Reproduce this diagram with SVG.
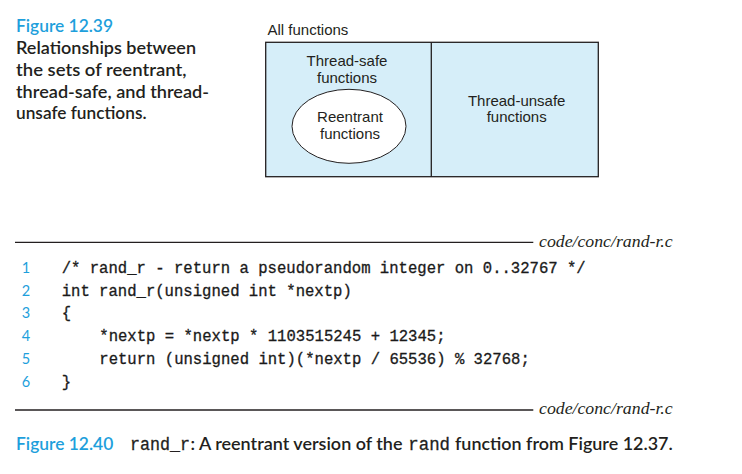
<svg xmlns="http://www.w3.org/2000/svg" width="742" height="474" viewBox="0 0 742 474">
<style>
.cap{font-family:Lato,"Liberation Sans",sans-serif;font-weight:600;font-size:18px;fill:#231f20}
.blue{fill:#1e9fdc}
.lbl{font-family:"Liberation Sans",Arial,sans-serif;font-size:15px;fill:#231f20}
.code{font-family:"Liberation Mono","Courier New",monospace;font-size:15.6px;fill:#1a1a1a;stroke:#1a1a1a;stroke-width:0.3;white-space:pre}
.num{font-family:Lato,"Liberation Sans",sans-serif;font-size:14.5px;fill:#1e9fdc;text-anchor:middle}
.file{font-family:"Liberation Serif","Times New Roman",serif;font-style:italic;font-size:16.5px;fill:#231f20}
.rule{stroke:#231f20;stroke-width:1.3}
.mono{font-family:"Liberation Mono","Courier New",monospace;font-weight:400;stroke:#231f20;stroke-width:0.3}
</style>
<rect width="742" height="474" fill="#ffffff"/>
<g id="caption-12-39">
<text class="cap blue" x="16" y="32" textLength="97" lengthAdjust="spacingAndGlyphs">Figure 12.39</text>
<text class="cap" x="16" y="54" textLength="180" lengthAdjust="spacingAndGlyphs">Relationships between</text>
<text class="cap" x="16" y="76" textLength="170.5" lengthAdjust="spacingAndGlyphs">the sets of reentrant,</text>
<text class="cap" x="16" y="97.5" textLength="193" lengthAdjust="spacingAndGlyphs">thread-safe, and thread-</text>
<text class="cap" x="16" y="119" textLength="130.5" lengthAdjust="spacingAndGlyphs">unsafe functions.</text>
</g>
<g id="all-functions">
<text class="lbl" x="267.5" y="35">All functions</text>
<rect x="265.7" y="42.3" width="332.6" height="134.4" fill="#d6eef9" stroke="#231f20" stroke-width="1.3"/>
</g>
<g id="thread-safe">
<line x1="431.3" y1="42.3" x2="431.3" y2="176.7" stroke="#231f20" stroke-width="1.3"/>
<text class="lbl" x="347" y="66" text-anchor="middle">Thread-safe</text>
<text class="lbl" x="347" y="82.7" text-anchor="middle">functions</text>
</g>
<g id="reentrant">
<ellipse cx="349" cy="126.3" rx="57" ry="37" fill="#ffffff" stroke="#231f20" stroke-width="1"/>
<text class="lbl" x="350" y="122" text-anchor="middle">Reentrant</text>
<text class="lbl" x="350" y="138.7" text-anchor="middle">functions</text>
</g>
<g id="thread-unsafe">
<text class="lbl" x="516.7" y="105.7" text-anchor="middle">Thread-unsafe</text>
<text class="lbl" x="516.7" y="122.3" text-anchor="middle">functions</text>
</g>
<g id="code-listing">
<line class="rule" x1="15" y1="242.3" x2="533.3" y2="242.3"/>
<text class="file" x="539" y="246.7" textLength="133.7" lengthAdjust="spacingAndGlyphs">code/conc/rand-r.c</text>
<text class="num" x="26" y="272.7">1</text>
<text class="num" x="26" y="295.5">2</text>
<text class="num" x="26" y="318.3">3</text>
<text class="num" x="26" y="341">4</text>
<text class="num" x="26" y="363.7">5</text>
<text class="num" x="26" y="386.5">6</text>
<text class="code" x="61.7" y="272.7">/* rand_r - return a pseudorandom integer on 0..32767 */</text>
<text class="code" x="61.7" y="295.5">int rand_r(unsigned int *nextp)</text>
<text class="code" x="61.7" y="318.3">{</text>
<text class="code" x="99.3" y="341">*nextp = *nextp * 1103515245 + 12345;</text>
<text class="code" x="99.3" y="363.7">return (unsigned int)(*nextp / 65536) % 32768;</text>
<text class="code" x="61.7" y="386.5">}</text>
<line class="rule" x1="15" y1="410" x2="533.3" y2="410"/>
<text class="file" x="539" y="414.3" textLength="133.7" lengthAdjust="spacingAndGlyphs">code/conc/rand-r.c</text>
</g>
<g id="caption-12-40">
<text class="cap blue" x="16" y="450" textLength="97.3" lengthAdjust="spacingAndGlyphs">Figure 12.40</text>
<text class="cap mono" x="130" y="450" font-size="16.5" textLength="60" lengthAdjust="spacingAndGlyphs">rand_r</text>
<text class="cap" x="190.5" y="450" textLength="212" lengthAdjust="spacingAndGlyphs">: A reentrant version of the</text>
<text class="cap mono" x="408.3" y="450" font-size="16.5" textLength="41.7" lengthAdjust="spacingAndGlyphs">rand</text>
<text class="cap" x="455" y="450" textLength="217.7" lengthAdjust="spacingAndGlyphs">function from Figure 12.37.</text>
</g>
</svg>
